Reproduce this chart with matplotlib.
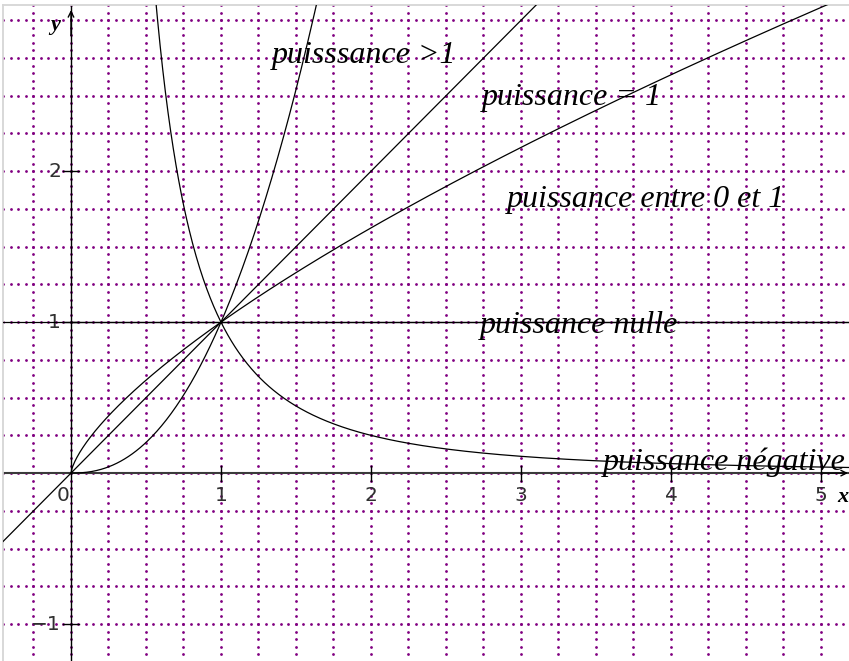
import numpy as np
import matplotlib
matplotlib.use('Agg')
import matplotlib.pyplot as plt

# power functions y = x^a
exponents = [2.3, 1.0, 0.7, 0.0, -2.0]
labels = ['puisssance >1', 'puissance = 1', 'puissance entre 0 et 1',
          'puissance nulle', 'puissance négative']
label_x = [1.34, 2.74, 2.907, 2.727, 3.547]
label_y = [2.72, 2.44, 1.764, 0.929, 0.022]

x_ticks = [1, 2, 3, 4, 5]
y_ticks = [-1, 1, 2]
grid_step = 0.25
dot_step = 0.05

x_min, x_max = -0.4533, 5.1867
y_min, y_max = -1.245, 3.1013

fig = plt.figure(figsize=(8.49, 6.61), dpi=100)
ax = fig.add_axes([3 / 849, 0, 846 / 849, 656 / 661])
ax.set_xlim(x_min, x_max)
ax.set_ylim(y_min, y_max)
for side in ['right', 'bottom']:
    ax.spines[side].set_visible(False)
for side in ['left', 'top']:
    ax.spines[side].set_color('#d6d6d6')
    ax.spines[side].set_linewidth(1.3)
ax.set_xticks([])
ax.set_yticks([])

# dotted purple grid, dots every 0.05 along lines every 0.25
purple = '#800080'
gx = np.arange(-0.25, x_max, grid_step)
gy = np.arange(-1.25, y_max, grid_step)
dx = np.arange(-0.45, x_max + 0.01, dot_step)
dy = np.arange(-1.25, y_max + 0.01, dot_step)
for v in gx:
    ax.plot(np.full_like(dy, v), dy, 'o', ms=2.0, color=purple, mec='none', zorder=1)
for h in gy:
    ax.plot(dx, np.full_like(dx, h), 'o', ms=2.0, color=purple, mec='none', zorder=1)

# axes through origin
ax.axhline(0, color='#3a3a3a', lw=1.5, zorder=2)
ax.axvline(0, color='k', lw=1.0, zorder=2)
ax.annotate('', xy=(0, 3.068), xytext=(0, 2.9),
            arrowprops=dict(arrowstyle='->', lw=1.0, color='k', shrinkA=0, shrinkB=0))
ax.annotate('', xy=(5.18, 0), xytext=(5.0, 0),
            arrowprops=dict(arrowstyle='->', lw=1.0, color='k', shrinkA=0, shrinkB=0))

tick_col = '#303030'
for t in x_ticks:
    ax.plot([t, t], [-0.05, 0.045], color='k', lw=1.0, zorder=2)
    ax.text(t, -0.15, str(t), ha='center', va='center', fontsize=14.5,
            color=tick_col, family='DejaVu Sans')
ax.text(-0.053, -0.15, '0', ha='center', va='center', fontsize=14.5,
        color=tick_col, family='DejaVu Sans')
for t in y_ticks:
    ax.plot([-0.053, 0.053], [t, t], color='k', lw=1.0, zorder=2)
    ax.text(-0.067, t, str(t).replace('-', '\u2212'), ha='right', va='center',
            fontsize=14.5, color=tick_col, family='DejaVu Sans')

ax.text(5.147, -0.157, 'x', ha='center', va='center', fontsize=16,
        family='Liberation Serif', style='italic', weight='bold')
ax.text(-0.107, 2.97, 'y', ha='center', va='center', fontsize=16,
        family='Liberation Serif', style='italic', weight='bold')

# curves
for a in exponents:
    if a == 1.0:
        xs = np.linspace(x_min, x_max, 400)
    elif a < 0:
        xs = np.linspace(0.5, x_max, 800)
    else:
        xs = np.linspace(0, x_max, 800)
    ax.plot(xs, xs ** a if a != 0 else np.ones_like(xs), color='k', lw=0.9, zorder=3)
ax.axhline(1, color='k', lw=0.9, zorder=3)

for lab, lx, ly in zip(labels, label_x, label_y):
    ax.text(lx, ly, lab, ha='left', va='baseline', fontsize=23,
            family='Liberation Serif', style='italic', zorder=4)

plt.savefig('out.png', dpi=100)
